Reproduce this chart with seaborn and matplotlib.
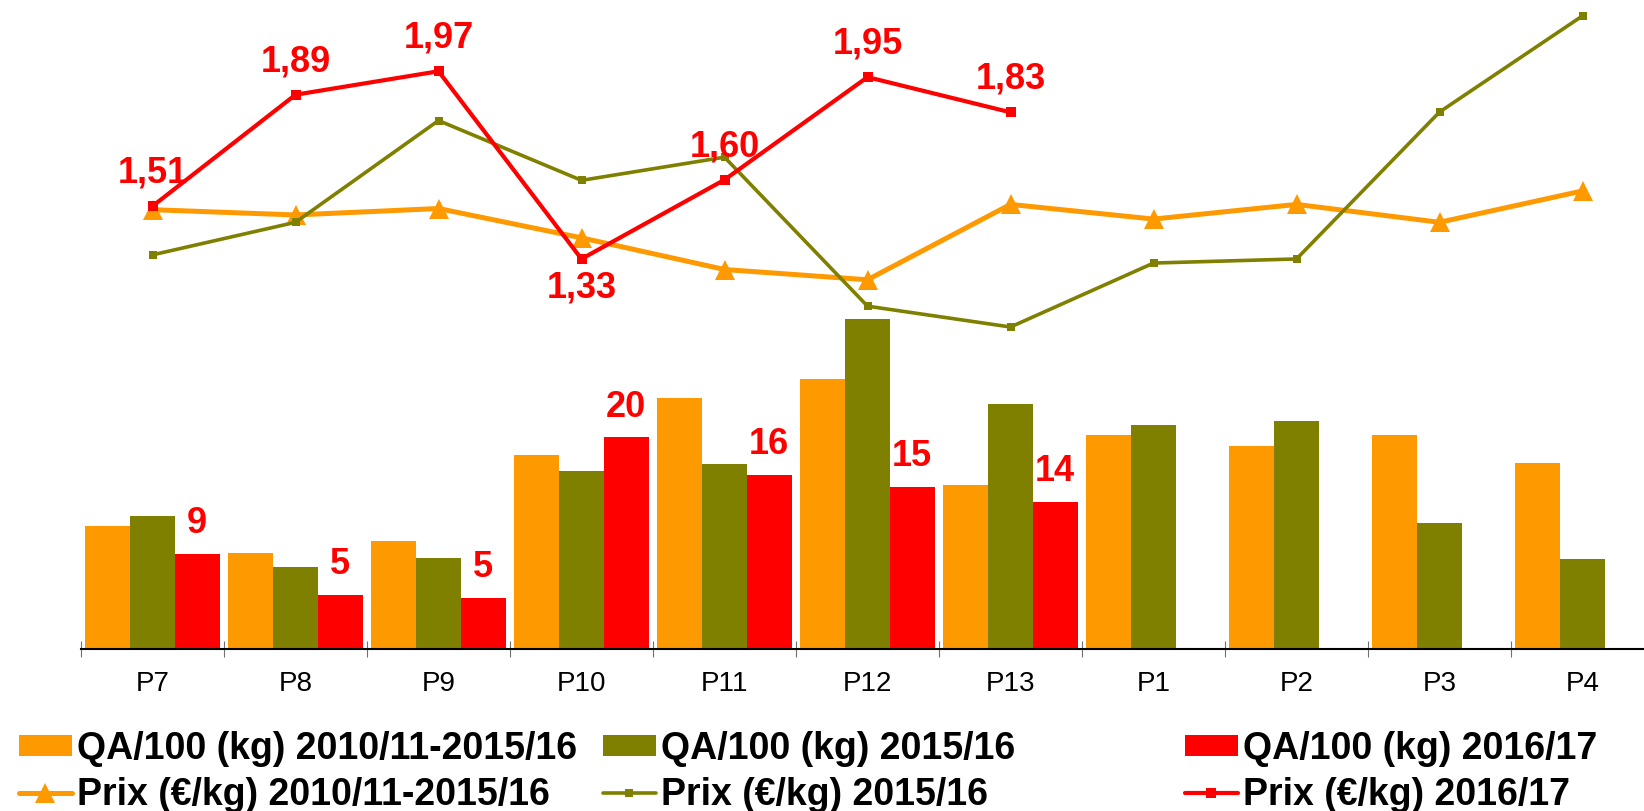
import numpy as np
import pandas as pd
import matplotlib
matplotlib.use("Agg")
import matplotlib.pyplot as plt
import seaborn as sns
from matplotlib.patches import Patch
from matplotlib.lines import Line2D

# periods on the x axis
periods = ["P7", "P8", "P9", "P10", "P11", "P12", "P13", "P1", "P2", "P3", "P4"]

# quantities bought (bars)
qa_moy = [11.4, 8.9, 10.0, 18.0, 23.2, 25.0, 15.2, 19.8, 18.8, 19.8, 17.2]
qa_1516 = [12.3, 7.6, 8.4, 16.5, 17.1, 30.6, 22.7, 20.7, 21.1, 11.7, 8.3]
qa_1617 = [8.8, 5.0, 4.7, 19.6, 16.1, 15.0, 13.6]

# prices (lines)
prix_moy = [1.498, 1.480, 1.502, 1.402, 1.294, 1.259, 1.516, 1.466, 1.516, 1.455, 1.562]
prix_1516 = [1.344, 1.455, 1.802, 1.598, 1.677, 1.169, 1.098, 1.316, 1.330, 1.831, 2.159]
prix_1617 = [1.51, 1.89, 1.97, 1.33, 1.60, 1.95, 1.83]
prix_1617_below = [False, False, False, True, False, False, False]

bar_names = ["QA/100 (kg) 2010/11-2015/16", "QA/100 (kg) 2015/16", "QA/100 (kg) 2016/17"]
line_names = ["Prix (€/kg) 2010/11-2015/16", "Prix (€/kg) 2015/16", "Prix (€/kg) 2016/17"]
colors = ["#FF9900", "#808000", "#FF0000"]

sns.set_style("white")
plt.rcParams['font.family'] = ['Liberation Sans', 'DejaVu Sans']
plt.rcParams['text.color'] = 'black'

# long format table for the bars
rows = []
for name, vals in zip(bar_names, [qa_moy, qa_1516, qa_1617]):
    for p, v in zip(periods, vals):
        rows.append({"Période": p, "Série": name, "QA": v})
df = pd.DataFrame(rows)

W, H = 1644, 811
fig = plt.figure(figsize=(W / 100, H / 100), dpi=100)
rect = [81 / W, 1 - 649 / H, 11 * 143 / W, 649 / H]
ax = fig.add_axes(rect)

sns.barplot(data=df, x="Période", y="QA", hue="Série", order=periods,
            hue_order=bar_names, palette=colors, saturation=1, width=0.94,
            gap=0, linewidth=0, errorbar=None, legend=False, ax=ax)

ax.set_xlim(-0.5, len(periods) - 0.5)
ax.set_ylim(0, 60.1)
ax.set_xlabel("")
ax.set_ylabel("")
ax.set_yticks([])
for s in ["top", "left", "right"]:
    ax.spines[s].set_visible(False)
ax.spines["bottom"].set_linewidth(1.5)
ax.spines["bottom"].set_color("black")
ax.set_xticks(np.arange(-0.5, len(periods), 1), minor=True)
ax.tick_params(axis="x", which="major", length=0, pad=16, labelsize=20, colors="black")
ax.tick_params(axis="x", which="minor", direction="inout", length=11, width=0.8,
               color="#707070", bottom=True)

# labels on the 2016/17 bars
for patch, v in zip(ax.containers[2], qa_1617):
    ax.annotate(f"{v:.0f}", (patch.get_x() + patch.get_width() / 2, patch.get_height()),
                xytext=(0, 15), textcoords="offset points", ha="center", va="baseline",
                color="#FF0000", fontsize=26, fontweight="bold")

# price lines on a second, overlapping axes
ax2 = fig.add_axes(rect)
ax2.patch.set_visible(False)
xpos = np.arange(len(periods))
sns.lineplot(x=xpos, y=prix_moy, color=colors[0], linewidth=3.6, marker="^",
             markersize=14, markeredgewidth=0, ax=ax2)
sns.lineplot(x=xpos, y=prix_1516, color=colors[1], linewidth=2.6, marker="s",
             markersize=6, markeredgewidth=0, ax=ax2)
sns.lineplot(x=xpos[:len(prix_1617)], y=prix_1617, color=colors[2], linewidth=3,
             marker="s", markersize=6.5, markeredgewidth=0, ax=ax2)
ax2.set_xlim(-0.5, len(periods) - 0.5)
ax2.set_ylim(0, 2.213)
ax2.axis("off")

for x, v, below in zip(xpos, prix_1617, prix_1617_below):
    ax2.annotate(f"{v:.2f}".replace(".", ","), (x, v),
                 xytext=(0, -27.5 if below else 17), textcoords="offset points",
                 ha="center", va="baseline", color="#FF0000", fontsize=26,
                 fontweight="bold")

# legend: three columns, bar on top, line below
styles = [dict(lw=3.6, marker="^", ms=14), dict(lw=2.6, marker="s", ms=6),
          dict(lw=3, marker="s", ms=6.5)]
col_x = [19, 603, 1185]
for c, bn, ln, st, x in zip(colors, bar_names, line_names, styles, col_x):
    handles = [Patch(facecolor=c, edgecolor="none"),
               Line2D([], [], color=c, markeredgewidth=0, **st)]
    fig.legend(handles=handles, labels=[bn, ln], loc="upper left",
               bbox_to_anchor=(x / W, 1 - 731 / H), frameon=False,
               prop={"weight": "bold", "size": 27}, labelcolor="black",
               handlelength=1.4, handleheight=0.5, handletextpad=0.15,
               labelspacing=0.27, borderpad=0, borderaxespad=0)

fig.savefig("out.png", dpi=100)
